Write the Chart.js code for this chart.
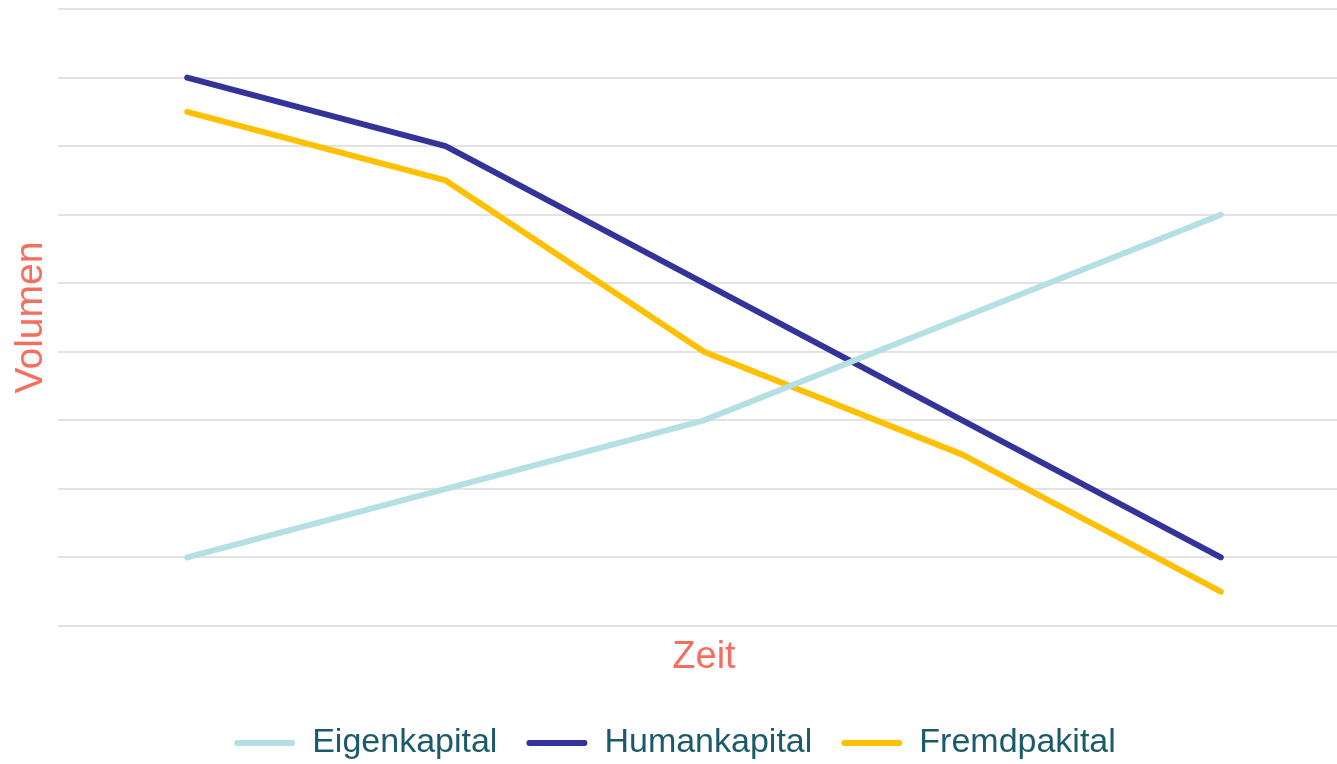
<!DOCTYPE html>
<html lang="de">
<head>
    <meta charset="UTF-8">
    <title>Kapital über Zeit</title>
    <script src="https://cdn.jsdelivr.net/npm/chart.js"></script>
    <style>
        body { margin: 0; overflow: hidden; background: #fff; }
        #wrap { width: 1350px; height: 770px; position: relative; }
    </style>
</head>
<body>
    <div id="wrap"><canvas id="kapitalChart"></canvas></div>

    <script>
        // Daten
        const zeitpunkte = ['1', '2', '3', '4', '5'];
        const eigenkapital = [1, 2, 3, 4.5, 6];
        const humankapital = [8, 7, 5, 3, 1];
        const fremdpakital = [7.5, 6.5, 4, 2.5, 0.5];

        const titelFarbe = '#F76E5E';
        const font = 'Arial, "Liberation Sans", sans-serif';

        function linie(label, data, farbe) {
            return {
                label: label,
                data: data,
                borderColor: farbe,
                backgroundColor: farbe,
                borderWidth: 6,
                borderCapStyle: 'round',
                borderJoinStyle: 'round',
                pointRadius: 0,
                tension: 0
            };
        }

        const ctx = document.getElementById('kapitalChart').getContext('2d');

        new Chart(ctx, {
            type: 'line',
            data: {
                labels: zeitpunkte,
                datasets: [
                    linie('Eigenkapital', eigenkapital, '#B4E0E4'),
                    linie('Humankapital', humankapital, '#33339A'),
                    linie('Fremdpakital', fremdpakital, '#FFC000')
                ]
            },
            options: {
                responsive: true,
                maintainAspectRatio: false,
                animation: false,
                layout: { padding: { top: 9, left: 0, right: 0, bottom: 0 } },
                plugins: {
                    legend: {
                        position: 'bottom',
                        labels: {
                            boxWidth: 61,
                            boxHeight: 6,
                            padding: 29,
                            useBorderRadius: true,
                            borderRadius: 3,
                            color: '#1B5A6B',
                            font: { family: font, size: 34 },
                            generateLabels: function(chart) {
                                // Linienstärke im Legendenkasten weglassen
                                return Chart.defaults.plugins.legend.labels.generateLabels(chart)
                                    .map(l => Object.assign(l, { lineWidth: 0 }));
                            }
                        }
                    },
                    tooltip: { enabled: false }
                },
                scales: {
                    x: {
                        offset: true,
                        grid: { display: false },
                        border: { display: false },
                        ticks: { display: false },
                        title: {
                            display: true,
                            text: 'Zeit',
                            color: titelFarbe,
                            font: { family: font, size: 38 },
                            padding: { top: 0, bottom: 17 }
                        },
                        afterFit: function(scale) { scale.height = 71; }
                    },
                    y: {
                        min: 0,
                        max: 9,
                        ticks: { display: false, stepSize: 1 },
                        border: { display: false },
                        grid: { color: '#E3E3E3', lineWidth: 2, drawTicks: false },
                        title: {
                            display: true,
                            text: 'Volumen',
                            color: titelFarbe,
                            font: { family: font, size: 39 },
                            padding: { top: 8, bottom: 0 }
                        },
                        afterFit: function(scale) { scale.width = 58; }
                    }
                }
            }
        });
    </script>
</body>
</html>
